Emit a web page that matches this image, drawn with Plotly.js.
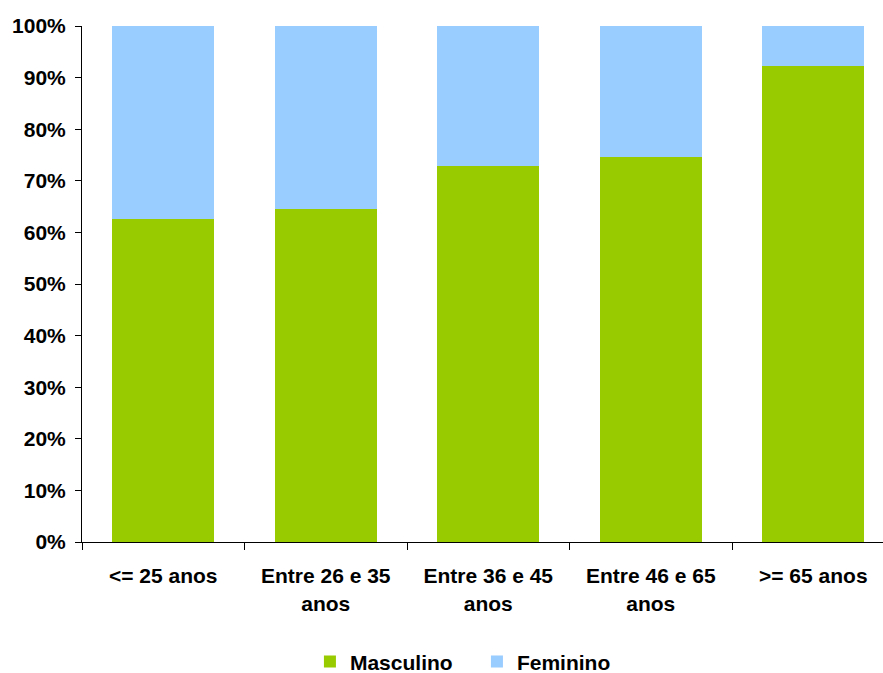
<!DOCTYPE html>
<html>
<head>
<meta charset="utf-8">
<script src="https://cdn.plot.ly/plotly-3.0.1.min.js"></script>
<style>
  html, body { margin: 0; padding: 0; background: #fff; }
  #chart { width: 883px; height: 673px; }
</style>
</head>
<body>
<div id="chart"></div>
<script>
// Faixas etárias (categorias do eixo X)
const faixas = ["<= 25 anos", "Entre 26 e 35<br>anos", "Entre 36 e 45<br>anos", "Entre 46 e 65<br>anos", ">= 65 anos"];
// Percentagem por sexo em cada faixa etária
const masculino = [62.6, 64.5, 72.9, 74.6, 92.2];
const feminino = [37.4, 35.5, 27.1, 25.4, 7.8];
// Marcas do eixo Y
const yTicks = [0, 10, 20, 30, 40, 50, 60, 70, 80, 90, 100];

const fonte = { family: "Liberation Sans, Arial, sans-serif", size: 21, color: "#000", weight: 700 };

const traces = [
  { type: "bar", name: "Masculino", x: faixas, y: masculino, width: 0.628,
    marker: { color: "#99CC00" }, hoverinfo: "x+y+name" },
  { type: "bar", name: "Feminino", x: faixas, y: feminino, width: 0.628,
    marker: { color: "#99CCFF" }, hoverinfo: "x+y+name" }
];

const layout = {
  width: 883, height: 673,
  margin: { l: 82, r: 0, t: 26, b: 131, pad: 0 },
  paper_bgcolor: "#fff", plot_bgcolor: "#fff",
  barmode: "stack",
  font: fonte,
  showlegend: true,
  legend: {
    orientation: "h", xref: "container", yref: "container",
    x: 0.351, xanchor: "left", y: 0.0165, yanchor: "middle",
    entrywidth: 122, entrywidthmode: "pixels",
    font: fonte, traceorder: "normal", itemclick: false
  },
  xaxis: {
    type: "category", range: [-0.5, 4.429], fixedrange: true, automargin: false,
    showline: true, linecolor: "#000", linewidth: 1,
    ticks: "outside", tickson: "boundaries", ticklen: 7, tickcolor: "#000", tickwidth: 1,
    showgrid: false, zeroline: false, tickfont: fonte, ticklabelstandoff: 15
  },
  yaxis: {
    range: [0, 100], fixedrange: true, automargin: false,
    tickvals: yTicks, ticktext: yTicks.map(v => v + "%"),
    showline: true, linecolor: "#000", linewidth: 1,
    ticks: "outside", ticklen: 6, tickcolor: "#000", tickwidth: 1,
    showgrid: false, zeroline: false, tickfont: fonte, ticklabelstandoff: 5
  }
};

Plotly.newPlot("chart", traces, layout, { displayModeBar: false, staticPlot: true });
</script>
</body>
</html>
